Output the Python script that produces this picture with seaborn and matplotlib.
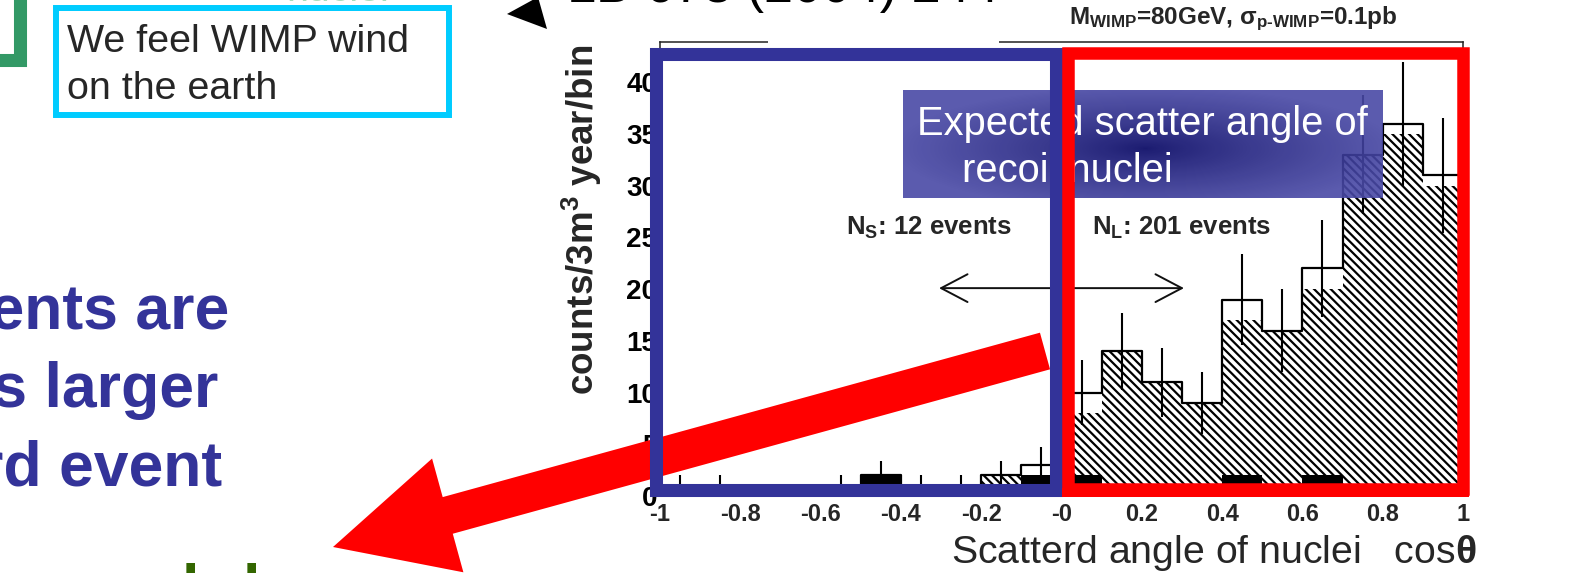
import numpy as np
import pandas as pd
import matplotlib
matplotlib.use("Agg")
import matplotlib.pyplot as plt
import seaborn as sns
from matplotlib.patches import Rectangle, FancyArrow, Polygon
from matplotlib.ticker import MultipleLocator

# cos(theta) binning: 20 bins from -1 to 1
bin_edges = [round(-1.0 + 0.1 * i, 2) for i in range(21)]
bin_centers = [round(-0.95 + 0.1 * i, 3) for i in range(20)]

# expected recoil distribution (hatched histogram)
expected_counts = [0, 0, 0, 0, 0, 0, 0, 0, 2, 1,
                   8, 14, 11, 9, 17, 16, 20, 33, 35, 30]
# solid black component
black_counts = [0, 0, 0, 0, 0, 2, 0, 0, 0, 2,
                2, 0, 0, 0, 2, 0, 2, 0, 0, 0]
# measured counts (open histogram with sqrt(N) errors)
measured_counts = [1, 1, 0, 0, 1, 2, 1, 1, 2, 3,
                   10, 14, 11, 9, 19, 16, 22, 33, 36, 31]

x_tick_values = [-1, -0.8, -0.6, -0.4, -0.2, 0, 0.2, 0.4, 0.6, 0.8, 1]
x_tick_labels = ["-1", "-0.8", "-0.6", "-0.4", "-0.2", "-0",
                 "0.2", "0.4", "0.6", "0.8", "1"]
y_tick_values = [0, 5, 10, 15, 20, 25, 30, 35, 40]

n_backward = 12
n_forward = 201

hist_df = pd.DataFrame({
    "cos_theta": bin_centers,
    "expected": expected_counts,
    "black": black_counts,
    "measured": measured_counts,
})

sns.set_style("white")
plt.rcParams["font.family"] = ["Liberation Sans", "DejaVu Sans"]
plt.rcParams["mathtext.fontset"] = "custom"
plt.rcParams["mathtext.rm"] = "Liberation Sans:bold"
plt.rcParams["mathtext.it"] = "Liberation Sans:bold"
plt.rcParams["mathtext.bf"] = "Liberation Sans:bold"
plt.rcParams["hatch.linewidth"] = 1.6
plt.rcParams["hatch.color"] = "black"

W, H = 1573, 573
fig = plt.figure(figsize=(W / 100, H / 100), dpi=100)
fig.patch.set_facecolor("white")

# ---------------- histogram panel ----------------
ax = fig.add_axes([660 / W, 1 - 496 / H, (1463 - 660) / W, (496 - 42) / H])
ax.patch.set_alpha(0)

sns.histplot(data=hist_df, x="cos_theta", weights="expected", bins=bin_edges,
             element="bars", fill=True, color="white", alpha=1,
             linewidth=0, ax=ax)
for p in ax.patches:
    p.set_hatch("\\\\\\\\")
    p.set_edgecolor("black")
    p.set_facecolor("white")
    p.set_linewidth(0)

sns.histplot(data=hist_df, x="cos_theta", weights="black", bins=bin_edges,
             element="bars", fill=True, color="black", alpha=1,
             linewidth=0, ax=ax)

sns.histplot(data=hist_df, x="cos_theta", weights="measured", bins=bin_edges,
             element="step", fill=False, color="black", linewidth=1.6, ax=ax)

meas = hist_df[hist_df["measured"] > 0]
ax.errorbar(meas["cos_theta"], meas["measured"], yerr=np.sqrt(meas["measured"]),
            fmt="none", ecolor="black", elinewidth=1.5, capsize=0)

ax.set_xlim(-1, 1)
ax.set_ylim(0, 43.9)
ax.set_xticks(x_tick_values)
ax.set_xticklabels(x_tick_labels)
ax.set_yticks(y_tick_values)
ax.yaxis.set_minor_locator(MultipleLocator(1))
ax.tick_params(axis="y", which="major", direction="in", length=14.4, width=1.2,
               pad=2, labelsize=20, colors="black")
ax.tick_params(axis="y", which="minor", direction="in", length=7.2, width=1.0,
               colors="#444444")
ax.tick_params(axis="x", which="major", direction="in", length=5, width=1.0,
               pad=5, labelsize=17)
for lab in ax.get_xticklabels() + ax.get_yticklabels():
    lab.set_fontweight("bold")
for s in ax.spines.values():
    s.set_visible(True)
    s.set_color("#222222")
    s.set_linewidth(1.1)

ax.set_ylabel("counts/3m$^{3}$ year/bin", fontsize=26.5, fontweight="bold", loc="top")
ax.yaxis.set_label_coords(-0.0697, 0.9934)
ax.set_xlabel("Scatterd angle of nuclei   cos$\u03b8$", fontsize=28.3,
              fontweight="normal", ha="left", va="baseline")
ax.xaxis.set_label_coords((951 - 660) / 803, (496 - 563) / 454)

ax.text(0.7136, (496 - 19) / 454,
        "M$_{WIMP}$=80GeV, \u03c3$_{\\text{p-WIMP}}$=0.1pb",
        transform=ax.transAxes, ha="center", va="center",
        fontsize=17.5, fontweight="bold")

ax.text(-0.33, 25.9, "N$_{S}$: %d events" % n_backward, ha="center", va="center",
        fontsize=18.5, fontweight="bold")
ax.text(0.30, 25.9, "N$_{L}$: %d events" % n_forward, ha="center", va="center",
        fontsize=18.5, fontweight="bold")
ax.annotate("", xy=(-0.305, 20.1), xytext=(0.305, 20.1),
            arrowprops=dict(arrowstyle="<->,head_length=0.95,head_width=0.5",
                            lw=1.4, color="#111111", mutation_scale=20,
                            shrinkA=0, shrinkB=0))

# ---------------- slide overlay (pixel coordinates) ----------------
ov = fig.add_axes([0, 0, 1, 1], zorder=10)
ov.patch.set_alpha(0)
ov.axis("off")

# white strip interrupting the frame top
ov.add_patch(Rectangle((768, 30), 231, 15, facecolor="white", edgecolor="none", zorder=1))

# gradient caption box
gx0, gx1, gy0, gy1 = 903, 1383, 90, 198
yy, xx = np.mgrid[0:gy1 - gy0, 0:gx1 - gx0]
d = np.sqrt(((xx + gx0 - 1145) / 250.0) ** 2 + ((yy + gy0 - 148) / 62.0) ** 2)
t = np.clip(d, 0, 1) ** 0.8
c_in = np.array([0, 0, 95]) / 255.0
c_out = np.array([72, 72, 165]) / 255.0
rgb = c_in * (1 - t[..., None]) + c_out * t[..., None]
rgba = np.dstack([rgb, np.full(t.shape, 0.9)])
ov.imshow(rgba, extent=(gx0, gx1, gy1, gy0), zorder=2, interpolation="bilinear",
          aspect="auto")
ov.text(917, 135, "Expected scatter angle of", color="white", fontsize=28.7,
        va="baseline", ha="left", zorder=3)
ov.text(962, 182, "recoil nuclei", color="white", fontsize=28.7,
        va="baseline", ha="left", zorder=3)

# big red arrow
ov.add_patch(FancyArrow(1045, 351, 333 - 1045, 547 - 351, width=38,
                        head_width=118, head_length=119,
                        length_includes_head=True, color="#ff0000", lw=0, zorder=4))

# backward / forward region boxes
ov.add_patch(Rectangle((655.5, 53.5), 400, 436.5, facecolor="none",
                       edgecolor="#333399", lw=9.4, joinstyle="miter", zorder=5))
ov.add_patch(Rectangle((1068, 53), 395, 436, facecolor="none",
                       edgecolor="#ff0000", lw=9.0, joinstyle="miter", zorder=6))
# fill the thin strip under the red box bottom edge
ov.add_patch(Rectangle((1062, 488), 407, 9, facecolor="#ff0000",
                       edgecolor="none", zorder=6))

# left side of the slide
ov.add_patch(Rectangle((-50, -50), 69.5, 109.5, facecolor="none",
                       edgecolor="#339966", lw=9.4, joinstyle="miter", zorder=5))
ov.add_patch(Rectangle((56, 8), 393, 107, facecolor="white",
                       edgecolor="#00ccff", lw=4.3, joinstyle="miter", zorder=5))
ov.text(67, 52, "We feel WIMP wind", fontsize=28.4, va="baseline", ha="left", zorder=6)
ov.text(67, 99, "on the earth", fontsize=28.4, va="baseline", ha="left", zorder=6)

ov.text(229, 330, "events are", fontsize=45, fontweight="bold", color="#333399",
        ha="right", va="baseline", zorder=6)
ov.text(218, 407, "is larger", fontsize=45, fontweight="bold", color="#333399",
        ha="right", va="baseline", zorder=6)
ov.text(222, 485, "backward event", fontsize=45, fontweight="bold", color="#333399",
        ha="right", va="baseline", zorder=6)
ov.text(190, 609, "l", fontsize=45, fontweight="bold", color="#336600",
        ha="center", va="baseline", zorder=6)
ov.text(251, 609, "l", fontsize=45, fontweight="bold", color="#336600",
        ha="center", va="baseline", zorder=6)

# top of the slide
ov.text(338, 1, "nuclei", fontsize=28.4, color="#a9dcbc", ha="center",
        va="baseline", zorder=6)
ov.text(567, 2, "LB 678 (2004) 244", fontsize=37.5, color="black", ha="left",
        va="baseline", zorder=6)
ov.add_patch(Polygon([(507, 14), (538, -3), (547, 29)], closed=True,
                     facecolor="black", edgecolor="none", zorder=6))

ov.set_xlim(0, W)
ov.set_ylim(H, 0)

fig.savefig("out.png", dpi=100, facecolor="white")
